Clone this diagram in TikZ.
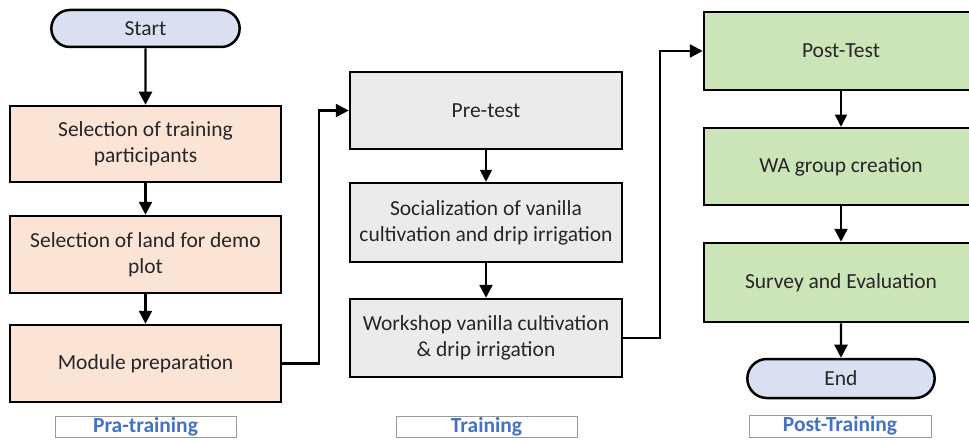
\documentclass[tikz,border=0pt]{standalone}
\usepackage{fontspec}
\setmainfont{Carlito}
\usetikzlibrary{shapes.misc,arrows.meta}

\definecolor{termfill}{HTML}{DAE0F2}
\definecolor{prafill}{HTML}{FBE4D5}
\definecolor{trainfill}{HTML}{EBEBEB}
\definecolor{postfill}{HTML}{CBE4B8}
\definecolor{labblue}{HTML}{4472C4}

\tikzset{
  stepbox/.style={draw=black, line width=2.5pt, minimum width=271pt, align=center,
    text=black!85, font=\fontsize{21.5}{26}\selectfont, inner sep=2pt},
  termbox/.style={draw=black, line width=2.5pt, rounded rectangle, fill=termfill,
    minimum width=195pt, minimum height=37pt, text=black!85, font=\fontsize{21.5}{26}\selectfont},
  phaselab/.style={draw=black!40, line width=0.8pt, fill=white, minimum width=181pt,
    minimum height=21pt, inner sep=0pt, text=labblue, font=\fontsize{21.5}{21}\bfseries\selectfont},
  flow/.style={line width=2.4pt, -{Triangle[length=13pt,width=13pt]}},
  thinflow/.style={line width=1.6pt, -{Triangle[length=12pt,width=12pt]}}
}

\begin{document}
\begin{tikzpicture}[x=1pt,y=-1pt]
\useasboundingbox (0,0) rectangle (969,441);

% Pra-training
\node[termbox] (start) at (145.5,28.5) {Start};
\node[stepbox, fill=prafill, minimum height=76pt] (sel1) at (145.5,144) {Selection of training\\participants};
\node[stepbox, fill=prafill, minimum height=77pt] (sel2) at (145.5,254.5) {Selection of land for demo\\plot};
\node[stepbox, fill=prafill, minimum height=77pt] (modprep) at (145.5,363.5) {Module preparation};
\node[phaselab] (lab1) at (145.5,426.5) {Pra-training};

% Training
\node[stepbox, fill=trainfill, minimum width=272pt, minimum height=77pt] (pretest) at (486,110.5) {Pre-test};
\node[stepbox, fill=trainfill, minimum width=272pt, minimum height=79pt] (social) at (486,222.5) {Socialization of vanilla\\cultivation and drip irrigation};
\node[stepbox, fill=trainfill, minimum width=272pt, minimum height=78pt] (workshop) at (486,338) {Workshop vanilla cultivation\\\& drip irrigation};
\node[phaselab] (lab2) at (486.5,426.5) {Training};

% Post-training
\node[stepbox, fill=postfill, minimum width=274pt, minimum height=78pt] (posttest) at (841,51) {Post-Test};
\node[stepbox, fill=postfill, minimum width=274pt, minimum height=77pt] (wagroup) at (841,166.5) {WA group creation};
\node[stepbox, fill=postfill, minimum width=274pt, minimum height=79pt] (survey) at (841,282.5) {Survey and Evaluation};
\node[termbox, minimum width=194pt, minimum height=39pt] (end) at (841,378.5) {End};
\node[phaselab, minimum width=182pt, minimum height=22pt] (lab3) at (840,426) {Post-Training};

\coordinate (bendA) at (319,363.5);
\coordinate (bendB) at (660,338);

\draw[flow] (start) -- (sel1);
\draw[flow] (sel1) -- (sel2);
\draw[flow] (sel2) -- (modprep);
\draw[flow] (modprep.east) -- (bendA) |- (pretest.west);

\draw[thinflow] (pretest) -- (social);
\draw[flow] (social) -- (workshop);
\draw[flow] (workshop.east) -- (bendB) |- (posttest.west);

\draw[thinflow] (posttest) -- (wagroup);
\draw[flow] (wagroup) -- (survey);
\draw[flow] (survey) -- (end);
\end{tikzpicture}
\end{document}
